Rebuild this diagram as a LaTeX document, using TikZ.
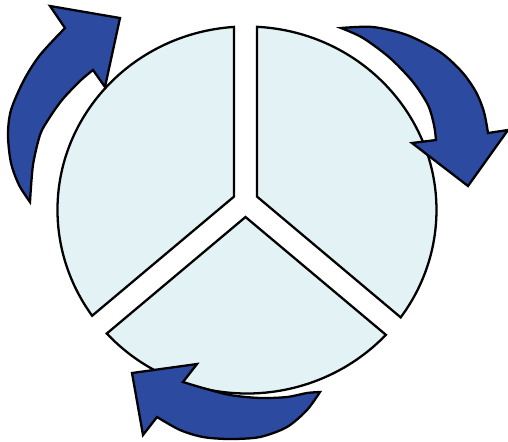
\documentclass[tikz,border=0pt]{standalone}
\begin{document}
\begin{tikzpicture}[x=0.02cm,y=-0.02cm]
\definecolor{sectorfill}{RGB}{227,242,244}
\definecolor{arrowblue}{RGB}{44,74,160}
\tikzset{
  sector/.style={fill=sectorfill,draw=black,line width=1.3pt,line join=miter},
  cyclearrow/.style={fill=arrowblue,draw=black,line width=1.3pt,line join=miter},
  ell/.style={x radius=189.5,y radius=183.5}
}
\useasboundingbox (0,0) rectangle (508,441);
% sectors
\path[sector] (234,196.6) -- (234,26.9) arc[start angle=-93.93,end angle=-215.2,ell] -- cycle;
\path[sector] (257,196.6) -- (257,26.8) arc[start angle=-86.97,end angle=35.8,ell] -- cycle;
\path[sector] (245.5,217) -- (106.8,333.5) arc[start angle=137.7,end angle=42.85,ell] -- cycle;
% arrow top-left
\path[cyclearrow] plot[smooth] coordinates {(30,202) (19,185) (11,163) (8,135) (11,110) (24,80) (40,55) (65,28)}
  -- (50,6) -- (120,18) -- (105,87) -- (93,70)
  -- plot[smooth] coordinates {(93,70) (80,81) (62,100) (48,120) (40,135) (33,165) (30,202)} -- cycle;
% arrow top-right
\path[cyclearrow] plot[smooth] coordinates {(341,28) (373,27) (407,35) (440,52) (462,72) (476,92) (484,112) (488,133)}
  -- (508,130) -- (468,186) -- (412,143) -- (436,140)
  -- plot[smooth] coordinates {(436,140) (434,125) (428,105) (413,82) (390,58) (363,38) (341,28)} -- cycle;
% arrow bottom
\path[cyclearrow] plot[smooth] coordinates {(320,392) (307,410) (287,427) (260,437) (230,439) (203,437) (180,430) (157,417)}
  -- (143,435) -- (132,373) -- (197,364) -- (183,382)
  -- plot[smooth] coordinates {(183,382) (203,388) (230,395) (260,398) (287,397) (307,393) (320,392)} -- cycle;
\end{tikzpicture}
\end{document}
